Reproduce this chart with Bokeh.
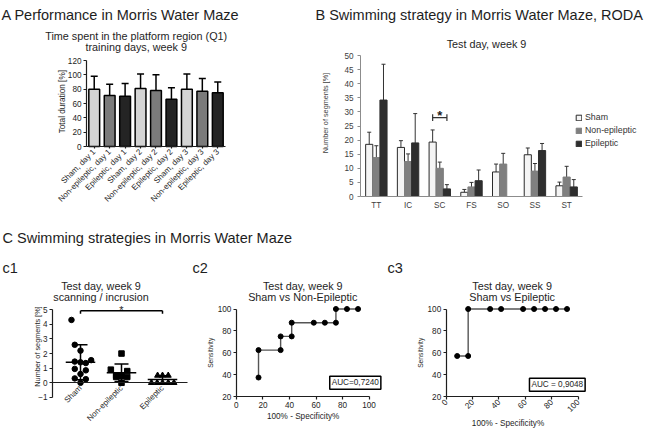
import math
from bokeh.plotting import figure
from bokeh.layouts import column, row
from bokeh.models import ColumnDataSource, Range1d, Whisker, TeeHead, Label
from bokeh.embed import file_html
from bokeh.resources import INLINE

FONT = "Liberation Sans"
INK = "#1e1e1e"

# ---------------- Panel A data ----------------
a_labels = ["Sham, day 1", "Non-epileptic, day 1", "Epileptic, day 1",
            "Sham, day 2", "Non-epileptic, day 2", "Epileptic, day 2",
            "Sham, day 3", "Non-epileptic, day 3", "Epileptic, day 3"]
a_groups = ["Sham", "Non-epileptic", "Epileptic"] * 3
a_mean = [80, 71, 70, 81, 78, 66, 80, 77, 75]
a_err = [18, 16, 18, 20, 22, 16, 21, 18, 15]
a_yticks = [0, 20, 40, 60, 80, 100, 120]

# ---------------- Panel B data ----------------
b_cats = ["TT", "IC", "SC", "FS", "SO", "SS", "ST"]
b_sham = [18.5, 17.4, 19.3, 1.5, 8.7, 14.8, 3.8]
b_sham_err = [4.3, 2.4, 4.3, 1.0, 2.8, 2.4, 1.3]
b_nonep = [13.8, 12.4, 10.0, 3.4, 11.5, 9.0, 6.9]
b_nonep_err = [4.2, 2.7, 2.2, 1.6, 3.8, 2.7, 3.8]
b_ep = [34.2, 19.0, 2.7, 5.6, 0.0, 16.3, 3.4]
b_ep_err = [12.7, 10.4, 1.5, 3.8, 0.0, 2.5, 2.6]
b_yticks = [0, 5, 10, 15, 20, 25, 30, 35, 40, 45, 50]
b_sig_cat = "SC"
b_sig_y = 28.0

# ---------------- Panel C1 data ----------------
c1_cats = ["Sham", "Non-epileptic", "Epileptic"]
c1_sham = [4.3, 2.6, 2.2, 1.55, 1.45, 1.4, 1.35, 0.95, 0.85, 0.6, 0.3, 0.25, 0.0]
c1_sham_jit = [-0.22, -0.14, 0.0, 0.26, -0.14, 0.0, 0.13, -0.14, 0.13, 0.0, -0.14, 0.13, 0.0]
c1_nonep = [2.0, 0.9, 0.8, 0.5, 0.45, 0.4, 0.4, 0.0]
c1_nonep_jit = [0.0, -0.26, 0.14, -0.13, 0.0, 0.14, -0.13, 0.0]
c1_ep = [0.5, 0.5, 0.5, 0.0, 0.0, 0.0, 0.0, 0.0]
c1_ep_jit = [-0.12, 0.0, 0.14, -0.27, -0.13, 0.0, 0.14, 0.28]
c1_mean = [1.4, 0.68, 0.22]
c1_sd = [1.2, 0.6, 0.26]
c1_yticks = [-1, 0, 1, 2, 3, 4, 5]
c1_sig_y = 4.93

# ---------------- Panel C2 / C3 ROC data ----------------
c2_x = [16.67, 16.67, 33.33, 33.33, 41.67, 41.67, 58.33, 66.67, 75.0, 75.0, 83.33, 91.67]
c2_y = [37.5, 62.5, 62.5, 75.0, 75.0, 87.5, 87.5, 87.5, 87.5, 100.0, 100.0, 100.0]
c3_x = [8.33, 16.67, 16.67, 33.33, 41.67, 58.33, 66.67, 75.0, 83.33, 91.67]
c3_y = [57.14, 57.14, 100.0, 100.0, 100.0, 100.0, 100.0, 100.0, 100.0, 100.0]
roc_xticks = [0, 20, 40, 60, 80, 100]
roc_yticks = [20, 40, 60, 80, 100]
c2_auc = "AUC=0,7240"
c3_auc = "AUC = 0,9048"


# ---------- helpers (layout: canvas pixel positions of axis ends) ----------
def xr_px(pa, va, pb, vb, width):
    s = (pb - pa) / (vb - va)
    start = va - pa / s
    return Range1d(start, start + width / s)


def yr_px(pa, va, pb, vb, height):
    s = (pa - pb) / (vb - va)
    end = va + pa / s
    return Range1d(end - height / s, end)


def make_fig(w, h, xr, yr, **kw):
    p = figure(width=w, height=h, x_range=xr, y_range=yr, output_backend="svg",
               toolbar_location=None, title=None, min_border=0,
               min_border_left=0, min_border_right=0, min_border_top=0, min_border_bottom=0,
               **kw)
    p.grid.visible = False
    p.outline_line_color = None
    return p


def style(p, color=INK, lw=1.2, fs="8.2px", lab_color=INK):
    for ax in p.axis:
        ax.axis_line_color = color
        ax.axis_line_width = lw
        ax.major_tick_line_color = color
        ax.major_tick_line_width = lw
        ax.minor_tick_line_color = None
        ax.major_tick_in = 0
        ax.major_tick_out = 3
        ax.major_label_standoff = 2
        ax.major_label_text_font = FONT
        ax.major_label_text_font_size = fs
        ax.major_label_text_color = lab_color


def txt(p, cx, cy, s, size, align="left", baseline="alphabetic", angle=0.0,
        color=INK, fstyle="normal", **kw):
    p.add_layout(Label(x=cx, y=p.height - cy, x_units="screen", y_units="screen", text=s,
                       text_font=FONT, text_font_size=size, text_align=align,
                       text_baseline=baseline, angle=angle, text_color=color,
                       text_font_style=fstyle, **kw))


def vlabel(p, cx, cy, s, size, color=INK):
    txt(p, cx, cy, s, size, align="center", baseline="middle", angle=math.pi / 2, color=color)


# ================= Panel A (canvas 313 x 210) =================
nA = len(a_labels)
pA = make_fig(313, 210, xr_px(93.72, 0, 93.72 + 15.444 * (nA - 1), nA - 1, 313),
              yr_px(146, 0, 60, 120, 210))
srcA = ColumnDataSource(dict(
    x=list(range(nA)), top=a_mean,
    up=[m + e for m, e in zip(a_mean, a_err)],
    lo=[m - e for m, e in zip(a_mean, a_err)],
    color=[{"Sham": "#d4d4d4", "Non-epileptic": "#7b7b7b", "Epileptic": "#242424"}[g]
           for g in a_groups]))
pA.vbar(x="x", top="top", width=0.7, source=srcA, fill_color="color",
        line_color="black", line_width=1.5)
pA.add_layout(Whisker(source=srcA, base="x", upper="up", lower="lo",
                      line_color="black", line_width=1.5,
                      upper_head=TeeHead(size=7, line_color="black", line_width=1.5),
                      lower_head=TeeHead(size=7, line_color="black", line_width=1.5)))
style(pA)
pA.yaxis.fixed_location = -0.5
pA.yaxis.bounds = (0, 120)
pA.yaxis.ticker = a_yticks
pA.xaxis.fixed_location = 0
pA.xaxis.bounds = (-0.5, nA - 0.5)
pA.xaxis.ticker = list(range(nA))
pA.xaxis.major_label_overrides = {i: s for i, s in enumerate(a_labels)}
pA.xaxis.major_label_orientation = math.pi / 4
pA.xaxis.major_label_text_font_size = "8px"
pA.xaxis.major_tick_out = 2
vlabel(pA, 61.5, 101.2, "Total duration [%]", "8.2px")
txt(pA, 1, 14.5, "A  Performance in Morris Water Maze", "14.5px")
txt(pA, 135.7, 35, "Time spent in the platform region (Q1)", "10.8px", align="center")
txt(pA, 135.7, 46.5, "training days, week 9", "10.8px", align="center")

# ================= Panel B (canvas 340 x 210) =================
nB = len(b_cats)
pB = make_fig(340, 210, xr_px(62.857, 0, 62.857 + 31.714 * (nB - 1), nB - 1, 340),
              yr_px(196, 0, 55, 50, 210))
xs = list(range(nB))
groupsB = [(b_sham, b_sham_err, -0.225, "#f4f4f4", "#2a2a2a", "Sham"),
           (b_nonep, b_nonep_err, 0.0, "#7f7f7f", "#7f7f7f", "Non-epileptic"),
           (b_ep, b_ep_err, 0.225, "#2e2e2e", "#2e2e2e", "Epileptic")]
for vals, errs, off, fill, line, lab in groupsB:
    src = ColumnDataSource(dict(x=[i + off for i in xs], top=vals,
                                up=[v + e for v, e in zip(vals, errs)],
                                lo=[v - e for v, e in zip(vals, errs)]))
    pB.vbar(x="x", top="top", width=0.225, source=src, fill_color=fill,
            line_color=line, line_width=1, legend_label=lab)
    pB.add_layout(Whisker(source=src, base="x", upper="up", lower="lo",
                          line_color="#333333", line_width=1,
                          upper_head=TeeHead(size=4, line_color="#333333", line_width=1),
                          lower_head=TeeHead(size=4, line_color="#333333", line_width=1)))
# significance bracket between Sham and Epileptic of SC
ci = b_cats.index(b_sig_cat)
pB.segment(x0=[ci - 0.225, ci - 0.225, ci + 0.225], x1=[ci + 0.225, ci - 0.225, ci + 0.225],
           y0=[b_sig_y, b_sig_y - 1.2, b_sig_y - 1.2], y1=[b_sig_y, b_sig_y + 1.2, b_sig_y + 1.2],
           line_color="#333333", line_width=1.2)
pB.add_layout(Label(x=ci, y=b_sig_y + 0.6, text="*", text_font=FONT,
                    text_font_size="13px", text_align="center", text_baseline="alphabetic",
                    text_color="#222222", text_font_style="bold"))
style(pB, color="#8c8c8c", lw=1, fs="8.2px", lab_color="#404040")
pB.yaxis.fixed_location = -0.5
pB.yaxis.bounds = (0, 50)
pB.yaxis.ticker = b_yticks
pB.yaxis.major_label_standoff = 4
pB.xaxis.fixed_location = 0
pB.xaxis.bounds = (-0.5, nB - 0.5)
pB.xaxis.ticker = xs
pB.xaxis.major_label_overrides = {i: s for i, s in enumerate(b_cats)}
pB.xaxis.major_tick_out = 0
pB.xaxis.major_label_standoff = 4
vlabel(pB, 11.5, 112.5, "Number of segments [%]", "7.3px", color="#404040")
lg = pB.legend[0]
lg.location = (262, 62)
lg.glyph_width = 7
lg.glyph_height = 7
lg.label_height = 10
lg.label_standoff = 3
lg.spacing = 3
lg.padding = 0
lg.margin = 0
lg.border_line_color = None
lg.background_fill_alpha = 0
lg.label_text_font = FONT
lg.label_text_font_size = "8.8px"
lg.label_text_color = "#333333"
txt(pB, 2, 14.5, "B  Swimming strategy in Morris Water Maze, RODA", "14.5px")
txt(pB, 173, 43.7, "Test day, week 9", "10.8px", align="center")

# ================= Header for C (canvas 653 x 36) =================
pH = make_fig(653, 36, Range1d(0, 1), Range1d(0, 1),
              x_axis_location=None, y_axis_location=None)
txt(pH, 2, 27, "C Swimming strategies in Morris Water Maze", "14.5px")

# ================= Panel C1 (canvas 190 x 183) =================
pC1 = make_fig(190, 183, xr_px(80, 0, 162, 2, 190), yr_px(150.9, -1, 63.2, 5, 183))
series = [(c1_sham, c1_sham_jit, "circle", 5.5), (c1_nonep, c1_nonep_jit, "square", 5.5),
          (c1_ep, c1_ep_jit, "triangle", 6)]
for i, (vals, jit, mk, sz) in enumerate(series):
    pC1.scatter(x=[i + j for j in jit], y=vals, marker=mk, size=sz,
                fill_color="black", line_color="black")
nC = len(c1_cats)
srcC1 = ColumnDataSource(dict(
    x=list(range(nC)), m=c1_mean,
    x0=[i - 0.36 for i in range(nC)], x1=[i + 0.36 for i in range(nC)],
    up=[m + s for m, s in zip(c1_mean, c1_sd)], lo=[m - s for m, s in zip(c1_mean, c1_sd)]))
pC1.segment(x0="x0", x1="x1", y0="m", y1="m", source=srcC1, line_color="black", line_width=1.5)
pC1.add_layout(Whisker(source=srcC1, base="x", upper="up", lower="lo",
                       line_color="black", line_width=1.5,
                       upper_head=TeeHead(size=14, line_color="black", line_width=1.5),
                       lower_head=TeeHead(size=14, line_color="black", line_width=1.5)))
pC1.segment(x0=[0, 0, nC - 1], x1=[nC - 1, 0, nC - 1],
            y0=[c1_sig_y, c1_sig_y, c1_sig_y], y1=[c1_sig_y, c1_sig_y - 0.2, c1_sig_y - 0.2],
            line_color="black", line_width=1.5)
pC1.add_layout(Label(x=(nC - 1) / 2, y=c1_sig_y + 0.08, text="*", text_font=FONT,
                     text_font_size="11px", text_align="center", text_baseline="alphabetic",
                     text_color=INK))
style(pC1)
pC1.yaxis.fixed_location = -0.683
pC1.yaxis.bounds = (-1, 5)
pC1.yaxis.ticker = c1_yticks
pC1.xaxis.fixed_location = 0
pC1.xaxis.bounds = (-0.683, 2.61)
pC1.xaxis.ticker = list(range(nC))
pC1.xaxis.major_label_overrides = {i: c for i, c in enumerate(c1_cats)}
pC1.xaxis.major_label_orientation = math.pi / 4
pC1.xaxis.major_tick_out = 0
pC1.xaxis.major_label_standoff = 4
pC1.xaxis.major_label_text_font_size = "8px"
vlabel(pC1, 36.6, 100, "Number of segments [%]", "7.3px")
txt(pC1, 2, 21, "c1", "14.5px")
txt(pC1, 100.5, 39, "Test day, week 9", "10.8px", align="center")
txt(pC1, 100.5, 50.3, "scanning / incrusion", "10.8px", align="center")


# ================= Panels C2 / C3 =================
def roc(w, x0px, x100px, xs_, ys_, t2, auc, auc_c, ylab_x, xlab_c, rot, name):
    p = make_fig(w, 183, xr_px(x0px, 0, x100px, 100, w), yr_px(150.2, 20, 62.5, 100, 183))
    p.line(xs_, ys_, line_color="#555555", line_width=1.4)
    p.scatter(xs_, ys_, size=5, fill_color="black", line_color="black")
    style(p)
    p.xaxis.fixed_location = 20
    p.xaxis.bounds = (0, 100)
    p.xaxis.ticker = roc_xticks
    p.yaxis.fixed_location = 0
    p.yaxis.bounds = (20, 100)
    p.yaxis.ticker = roc_yticks
    if rot:
        p.xaxis.major_label_orientation = math.pi / 4
        p.xaxis.major_label_standoff = 1
    vlabel(p, ylab_x, 106.3, "Sensitivity", "6.7px")
    txt(p, xlab_c[0], xlab_c[1], "100% - Specificity%", "8.2px", align="center", baseline="middle")
    txt(p, auc_c[0], auc_c[1], auc, "8.2px", align="center", baseline="middle", padding=2,
        border_line_color="black", border_line_width=1.5, background_fill_color="white")
    cx = (x0px + x100px) / 2
    txt(p, 2, 21, name, "14.5px")
    txt(p, cx, 39, "Test day, week 9", "10.8px", align="center")
    txt(p, cx, 50.3, t2, "10.8px", align="center")
    return p


pC2 = roc(195, 45.9, 178.6, c2_x, c2_y, "Sham vs Non-Epileptic", c2_auc, (164.8, 136.3),
          20, (112.6, 170), False, "c2")
pC3 = roc(268, 60.7, 192.5, c3_x, c3_y, "Sham vs Epileptic", c3_auc, (171.8, 138.2),
          35.4, (122.5, 177), True, "c3")

layout = column(row(pA, pB), pH, row(pC1, pC2, pC3))
open("out.html", "w").write(file_html(layout, INLINE))
